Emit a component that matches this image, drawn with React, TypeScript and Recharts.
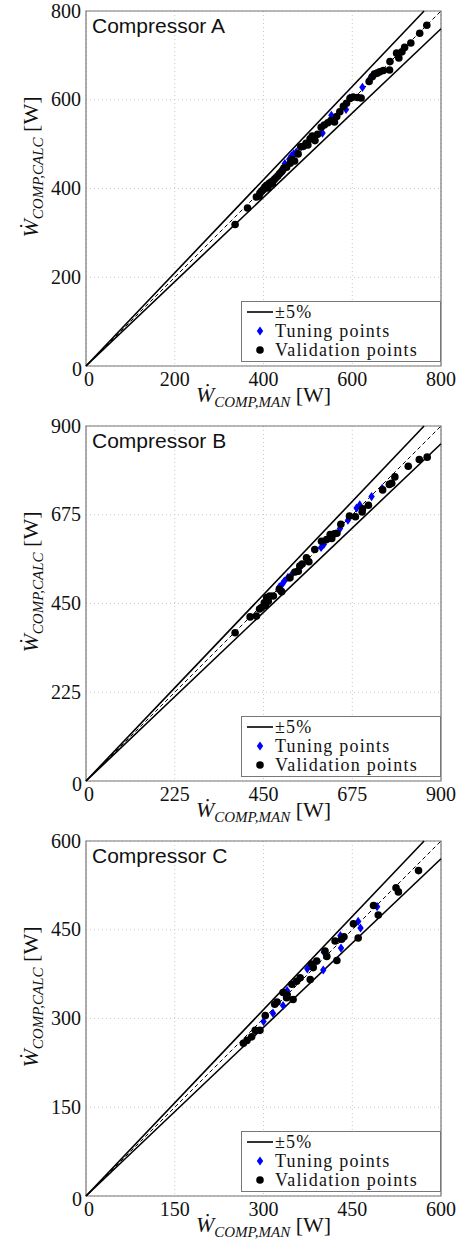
import React from 'react';
import { ScatterChart, Scatter, XAxis, YAxis, CartesianGrid, ReferenceArea, Legend } from 'recharts';

// ---------- Data (W_COMP,MAN [W], W_COMP,CALC [W]) ----------
const compATuning: [number, number][] = [
  [448, 456], [458, 466], [463, 473], [468, 478], [474, 482], [506, 512],
  [533, 525], [553, 565], [586, 578], [594, 604], [623, 628], [640, 648],
];
const compAValidation: [number, number][] = [
  [336, 319], [364, 356], [384, 381], [390, 383], [392, 390], [396, 394], [400, 398],
  [403, 403], [407, 407], [410, 401], [413, 412], [418, 415], [420, 410], [424, 420],
  [428, 424], [432, 428], [436, 433], [440, 437], [443, 441], [446, 446], [452, 448],
  [460, 457], [464, 465], [470, 462], [478, 478], [484, 494], [490, 495], [496, 502],
  [500, 498], [505, 512], [510, 518], [516, 508], [522, 522], [530, 538], [537, 543],
  [545, 548], [552, 553], [560, 550], [565, 562], [572, 573], [580, 585], [587, 592],
  [595, 603], [602, 606], [612, 605], [620, 604], [638, 641], [645, 652], [650, 658],
  [656, 660], [662, 663], [670, 666], [684, 667], [685, 686], [700, 705], [705, 694],
  [712, 708], [718, 718], [732, 728], [752, 750], [768, 768],
];
const compBTuning: [number, number][] = [
  [490, 492], [498, 500], [503, 507], [512, 516], [522, 524], [596, 592], [603, 600],
  [644, 640], [664, 661], [686, 692], [694, 700], [724, 721], [751, 742],
];
const compBValidation: [number, number][] = [
  [378, 376], [416, 416], [432, 418], [440, 436], [445, 440], [452, 452], [455, 445],
  [458, 465], [462, 456], [466, 469], [475, 469], [490, 486], [496, 480], [517, 515],
  [530, 530], [538, 532], [542, 545], [548, 550], [559, 566], [565, 556], [580, 587],
  [597, 608], [610, 612], [619, 625], [623, 615], [630, 627], [636, 628], [646, 651],
  [668, 672], [683, 670], [700, 682], [701, 690], [716, 699], [752, 738], [769, 752],
  [775, 755], [783, 771], [817, 798], [845, 815], [865, 821],
];
const compCTuning: [number, number][] = [
  [300, 295], [316, 309], [333, 322], [340, 347], [374, 384], [401, 382],
  [402, 412], [430, 440], [431, 419], [460, 464], [464, 453], [492, 489],
];
const compCValidation: [number, number][] = [
  [266, 258], [272, 263], [280, 269], [286, 280], [294, 280], [303, 305], [319, 324],
  [323, 328], [333, 344], [339, 335], [340, 340], [348, 358], [350, 332], [356, 363],
  [362, 369], [379, 366], [381, 392], [384, 386], [390, 397], [404, 414], [407, 405],
  [421, 431], [424, 398], [432, 434], [436, 438], [452, 460], [460, 436], [486, 491],
  [494, 475], [524, 521], [528, 514], [562, 550],
];

const ticksA = [0, 200, 400, 600, 800];
const ticksB = [0, 225, 450, 675, 900];
const ticksC = [0, 150, 300, 450, 600];

const titles = ['Compressor A', 'Compressor B', 'Compressor C'];
const legendLabels = ['\u00B15%', 'Tuning points', 'Validation points'];
const BAND = 0.05;

// ---------- Styling ----------
const SERIF = '"Liberation Serif", "Times New Roman", Times, serif';
const SANS = '"Liberation Sans", Arial, sans-serif';

const toPts = (arr: [number, number][]) => arr.map(([x, y]) => ({ x, y }));

const DotShape = (props: any) => {
  const { cx, cy } = props;
  if (cx == null || cy == null) return <g />;
  return <circle cx={cx} cy={cy} r={3.8} fill="#000" />;
};
const DiamondShape = (props: any) => {
  const { cx, cy } = props;
  if (cx == null || cy == null) return <g />;
  return <path d={`M${cx},${cy - 4.6}L${cx + 3.2},${cy}L${cx},${cy + 4.6}L${cx - 3.2},${cy}Z`} fill="#0000ff" />;
};
const NoShape = () => <g />;

const XTick = (props: any) => {
  const { x, y, payload } = props;
  const isZero = payload.value === 0;
  return (
    <text x={isZero ? x + 3 : x} y={y + 20} textAnchor="middle" fontFamily={SERIF} fontSize={20} fill="#111" style={{ fontFamily: SERIF }}>
      {payload.value}
    </text>
  );
};
const YTick = (props: any) => {
  const { x, y, payload } = props;
  const isZero = payload.value === 0;
  return (
    <text x={isZero ? x + 1 : x} y={isZero ? y + 9.5 : y + 6.5} textAnchor="end" fontFamily={SERIF} fontSize={20} fill="#111" style={{ fontFamily: SERIF }}>
      {payload.value}
    </text>
  );
};

const XLabel = (props: any) => {
  const { x, y, width } = props.viewBox;
  return (
    <text x={x + width / 2} y={y + 36} textAnchor="middle" fontFamily={SERIF} fontSize={22} fill="#111" style={{ fontFamily: SERIF }}>
      <tspan fontStyle="italic">{'\u1E86'}</tspan>
      <tspan fontStyle="italic" fontSize={15} dy={5}>COMP,MAN</tspan>
      <tspan dy={-5}>{' [W]'}</tspan>
    </text>
  );
};
const YLabel = (props: any) => {
  const { y } = props.viewBox;
  const cx = 38;
  const cy = y + 156;
  return (
    <text x={cx} y={cy} transform={`rotate(-90, ${cx}, ${cy})`} textAnchor="middle" fontFamily={SERIF} fontSize={22} fill="#111" style={{ fontFamily: SERIF }}>
      <tspan fontStyle="italic">{'\u1E86'}</tspan>
      <tspan fontStyle="italic" fontSize={15} dy={5}>COMP,CALC</tspan>
      <tspan dy={-5}>{' [W]'}</tspan>
    </text>
  );
};

const legendText = { fontFamily: SERIF, fontSize: 18, fill: '#111', letterSpacing: 1.2, style: { fontFamily: SERIF } };
const renderLegend = () => (
  <svg width={200} height={61} style={{ display: 'block' }}>
    <rect x={0.5} y={0.5} width={199} height={60} fill="#fff" stroke="#777" />
    <line x1={6} x2={32} y1={11} y2={11} stroke="#000" strokeWidth={1.6} />
    <text x={34} y={17} {...legendText}>{legendLabels[0]}</text>
    <path d="M19,25.4L22.2,30L19,34.6L15.8,30Z" fill="#0000ff" />
    <text x={34} y={36} {...legendText}>{legendLabels[1]}</text>
    <circle cx={19} cy={49} r={3.8} fill="#000" />
    <text x={34} y={55} {...legendText}>{legendLabels[2]}</text>
  </svg>
);

type PanelProps = {
  title: string;
  max: number;
  ticks: number[];
  tuning: [number, number][];
  validation: [number, number][];
};

function Panel({ title, max, ticks, tuning, validation }: PanelProps) {
  const diag = [{ x: 0, y: 0 }, { x: max, y: max }];
  const upper = [{ x: 0, y: 0 }, { x: max / (1 + BAND), y: max }];
  const lower = [{ x: 0, y: 0 }, { x: max, y: max * (1 - BAND) }];
  return (
    <ScatterChart width={465} height={415} margin={{ top: 11, right: 24, bottom: 0, left: 0 }}>
      <CartesianGrid stroke="#c8c8c8" strokeDasharray="1 3" />
      <XAxis
        type="number"
        dataKey="x"
        domain={[0, max]}
        ticks={ticks}
        interval={0}
        height={49}
        axisLine={false}
        tickLine={false}
        tickSize={0}
        tickMargin={0}
        tick={XTick}
        label={(p: any) => <XLabel {...p} />}
      />
      <YAxis
        type="number"
        dataKey="y"
        domain={[0, max]}
        ticks={ticks}
        interval={0}
        width={86}
        axisLine={false}
        tickLine={false}
        tickSize={0}
        tickMargin={5}
        tick={YTick}
        label={(p: any) => <YLabel {...p} />}
      />
      <ReferenceArea x1={0} x2={max} y1={0} y2={max} fill="none" fillOpacity={0} stroke="#777" strokeWidth={1.2} ifOverflow="visible" />
      <Scatter data={upper} line={{ stroke: '#000', strokeWidth: 1.6 }} shape={NoShape} legendType="none" isAnimationActive={false} />
      <Scatter data={lower} line={{ stroke: '#000', strokeWidth: 1.6 }} shape={NoShape} legendType="none" isAnimationActive={false} />
      <Scatter data={diag} line={{ stroke: '#000', strokeWidth: 1, strokeDasharray: '4 3' }} shape={NoShape} legendType="none" isAnimationActive={false} />
      <Scatter name="Tuning points" data={toPts(tuning)} shape={DiamondShape} isAnimationActive={false} />
      <Scatter name="Validation points" data={toPts(validation)} shape={DotShape} isAnimationActive={false} />
      <Legend
        content={renderLegend}
        layout="horizontal"
        verticalAlign="middle"
        align="center"
        wrapperStyle={{ position: 'absolute', left: 241, top: 301, width: 200, height: 61 }}
      />
      <text x={92} y={33} fontFamily={SANS} fontSize={21} fill="#111">{title}</text>
    </ScatterChart>
  );
}

export default function App() {
  return (
    <div style={{ position: 'absolute', top: 0, left: 0, width: 465, height: 1244, background: '#fff' }}>
      <Panel title={titles[0]} max={800} ticks={ticksA} tuning={compATuning} validation={compAValidation} />
      <Panel title={titles[1]} max={900} ticks={ticksB} tuning={compBTuning} validation={compBValidation} />
      <Panel title={titles[2]} max={600} ticks={ticksC} tuning={compCTuning} validation={compCValidation} />
    </div>
  );
}
